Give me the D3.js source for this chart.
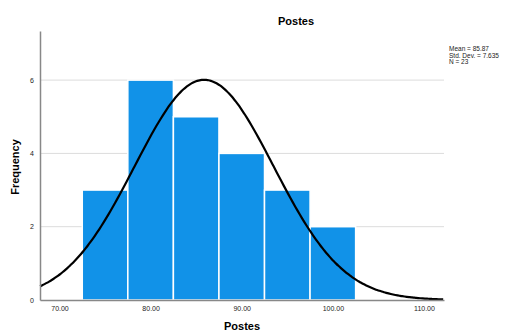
<!DOCTYPE html>
<html>
<head>
<meta charset="utf-8">
<script src="https://cdn.jsdelivr.net/npm/d3@7"></script>
<style>
  body { margin: 0; background: #fff; }
  text { font-family: Arial, "Liberation Sans", sans-serif; }
</style>
</head>
<body>
<div id="chart"></div>
<script>
// histogram bins (centre of each bin) and counts
let binCenters = [75, 80, 85, 90, 95, 100];
let counts = [3, 6, 5, 4, 3, 2];
let binWidth = 5;
let xTicks = [70, 80, 90, 100, 110];
let yTicks = [0, 2, 4, 6];
// stats printed on the chart
let mean = 85.87, sd = 7.635, n = 23;
let statLines = ["Mean = 85.87", "Std. Dev. = 7.635", "N = 23"];

let w = 508, h = 331;
let margin = {left: 40, right: 64, top: 31, bottom: 31};

let svg = d3.select("#chart").append("svg")
  .attr("width", w).attr("height", h);

let x = d3.scaleLinear().domain([67.86, 112.2]).range([margin.left, w - margin.right]);
let y = d3.scaleLinear().domain([0, 7.34]).range([h - margin.bottom, margin.top]);

// grid lines
svg.append("g").selectAll("line")
  .data(yTicks.filter(d => d > 0)).enter()
  .append("line")
  .attr("x1", x.range()[0]).attr("x2", x.range()[1])
  .attr("y1", d => y(d)).attr("y2", d => y(d))
  .attr("stroke", "#dcdcdc").attr("stroke-width", 1);

// bars
svg.append("g").selectAll("rect")
  .data(binCenters).enter()
  .append("rect")
  .attr("x", d => x(d - binWidth / 2))
  .attr("width", d => x(d + binWidth / 2) - x(d - binWidth / 2))
  .attr("y", (d, i) => y(counts[i]))
  .attr("height", (d, i) => y(0) - y(counts[i]))
  .attr("fill", "#1192e8")
  .attr("stroke", "#fff").attr("stroke-width", 1.5);

// normal curve
let xs = d3.range(x.domain()[0], x.domain()[1] + 0.01, 0.25);
let dens = xs.map(v => n * binWidth / (sd * Math.sqrt(2 * Math.PI)) * Math.exp(-0.5 * Math.pow((v - mean) / sd, 2)));
let line = d3.line().x((d, i) => x(xs[i])).y(d => y(d)).curve(d3.curveBasis);
svg.append("path")
  .attr("d", line(dens))
  .attr("fill", "none").attr("stroke", "#000").attr("stroke-width", 2.2);

// axes
let xAxis = svg.append("g").attr("transform", "translate(0," + y(0) + ")")
  .call(d3.axisBottom(x).tickValues(xTicks).tickFormat(d3.format(".2f")).tickSize(0).tickPadding(6));
xAxis.select(".domain").attr("stroke", "#888").attr("stroke-width", 1.5);
xAxis.selectAll("text").attr("font-size", 7).attr("fill", "#222");

let yAxis = svg.append("g").attr("transform", "translate(" + margin.left + ",0)")
  .call(d3.axisLeft(y).tickValues(yTicks).tickFormat(d3.format("d")).tickSize(0).tickPadding(6));
yAxis.select(".domain").attr("stroke", "#888").attr("stroke-width", 1.5);
yAxis.selectAll("text").attr("font-size", 7).attr("fill", "#222");

// titles
svg.append("text").attr("x", 296).attr("y", 25)
  .attr("text-anchor", "middle").attr("font-size", 11).attr("font-weight", "bold")
  .text("Postes");
svg.append("text").attr("x", 242).attr("y", 329.5)
  .attr("text-anchor", "middle").attr("font-size", 11).attr("font-weight", "bold")
  .text("Postes");
svg.append("text").attr("transform", "translate(19,167) rotate(-90)")
  .attr("text-anchor", "middle").attr("font-size", 11).attr("font-weight", "bold")
  .text("Frequency");

// stats box
svg.append("g").selectAll("text")
  .data(statLines).enter()
  .append("text")
  .attr("x", 449).attr("y", (d, i) => 51 + i * 6.5)
  .attr("font-size", 6.5).attr("fill", "#222")
  .text(d => d);
</script>
</body>
</html>
